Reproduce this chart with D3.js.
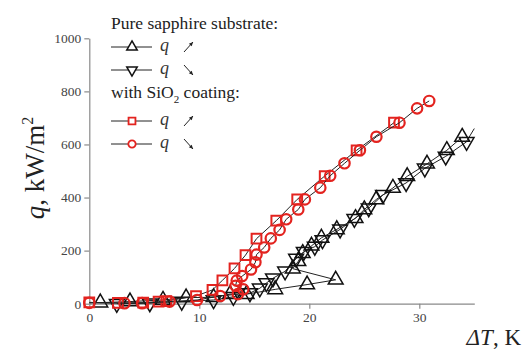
<!DOCTYPE html>
<html>
<head>
<meta charset="utf-8">
<script src="https://cdn.jsdelivr.net/npm/d3@7"></script>
<style>
  body { margin: 0; background: #fff; }
</style>
</head>
<body>
<svg id="chart" width="524" height="350" font-family="Liberation Serif"></svg>
<script>
// values: [dT (K), q (kW/m2)]
var sapphireUp = [
  [1.0, 4], [3.7, 8], [6.7, 14], [8.8, 23], [11.3, 24], [12.8, 36], [14.3, 36],
  [16.9, 54], [19.8, 72], [22.4, 90], [18.5, 132], [19.0, 160], [19.4, 190],
  [20.2, 218], [21.1, 248], [22.5, 280], [24.2, 322], [25.0, 355], [26.1, 393],
  [27.6, 436], [28.9, 480], [30.7, 527], [32.5, 578], [33.9, 628]
];
var sapphireDown = [
  [34.3, 610], [32.4, 555], [30.5, 510], [28.8, 455], [26.7, 410], [25.4, 360],
  [24.1, 320], [22.8, 280], [21.2, 240], [20.5, 215], [19.5, 196], [18.8, 170],
  [17.8, 122], [16.7, 96], [16.1, 78], [15.5, 58], [14.6, 40], [13.1, 26],
  [11.3, 14], [8.4, 8], [5.5, 2], [2.5, 0]
];
var sapphireTail = [[34.3, 612], [35, 660]];
var coatedUp = [
  [0.0, 5], [2.6, 3], [4.9, 4], [6.3, 8], [7.0, 10], [9.7, 29], [11.2, 52],
  [12.1, 88], [13.2, 133], [14.2, 183], [15.2, 245], [17.0, 313], [18.9, 393],
  [21.4, 481], [24.3, 578], [27.7, 682]
];
var coatedDown = [
  [30.9, 764], [29.8, 736], [28.2, 682], [26.1, 629], [24.6, 578], [23.2, 529],
  [21.9, 482], [21.0, 437], [19.6, 393], [19.0, 355], [17.9, 318], [17.3, 278],
  [16.5, 246], [15.9, 212], [15.2, 185], [15.1, 156], [14.7, 129], [13.9, 104],
  [13.4, 87], [13.3, 67], [14.0, 54], [13.5, 36], [11.9, 29], [9.8, 14],
  [7.3, 8], [4.8, 2], [3.2, 2], [0.0, 3]
];
var xTicks = [0, 10, 20, 30];
var xMinor = [5, 15, 25, 35];
var yTicks = [0, 200, 400, 600, 800, 1000];
var yMinor = [100, 300, 500, 700, 900];

var red = "#e3231f";
var serif = "Liberation Serif";
var svg = d3.select("#chart");
var x = d3.scaleLinear().domain([0, 35]).range([89.3, 474.3]);
var y = d3.scaleLinear().domain([0, 1000]).range([303.7, 38.3]);

// axes
var axisColor = "#8a8a8a";
var gx = svg.append("g").attr("transform", "translate(0," + y(0) + ")");
gx.call(d3.axisBottom(x).tickValues(xMinor).tickSize(3).tickFormat(""));
gx.call(d3.axisBottom(x).tickValues(xTicks).tickSize(5).tickSizeOuter(0).tickPadding(4)
  .tickFormat(d3.format("d")));
var gy = svg.append("g").attr("transform", "translate(" + x(0) + ",0)");
gy.call(d3.axisLeft(y).tickValues(yMinor).tickSize(3).tickFormat(""));
gy.call(d3.axisLeft(y).tickValues(yTicks).tickSize(5).tickSizeOuter(0).tickPadding(3)
  .tickFormat(d3.format("d")));
svg.selectAll(".domain, .tick line").attr("stroke", axisColor).attr("stroke-width", 1.2);
svg.selectAll("g").attr("font-family", serif);
svg.selectAll(".tick text").attr("fill", "#444").style("font-size", "13.5px");

var line = d3.line().x(function(d){ return x(d[0]); }).y(function(d){ return y(d[1]); });

function drawSeries(data, shape, color, sw) {
  svg.append("path").datum(data).attr("d", line)
    .attr("fill", "none").attr("stroke", "#222").attr("stroke-width", 1);
  var sym = d3.symbol().type(shape.type).size(shape.size);
  svg.append("g").selectAll("path").data(data).enter().append("path")
    .attr("d", sym)
    .attr("transform", function(d){
      return "translate(" + x(d[0]) + "," + y(d[1]) + ")" + (shape.rot ? " rotate(180)" : "");
    })
    .attr("fill", "none")
    .attr("stroke", color).attr("stroke-width", sw);
}

svg.append("path").datum(sapphireTail).attr("d", line)
  .attr("fill", "none").attr("stroke", "#222").attr("stroke-width", 1);

var triUp = {type: d3.symbolTriangle, size: 95, rot: false};
var triDown = {type: d3.symbolTriangle, size: 95, rot: true};
var square = {type: d3.symbolSquare, size: 95};
var circle = {type: d3.symbolCircle, size: 85};

drawSeries(sapphireDown, triDown, "#111", 1.5);
drawSeries(sapphireUp, triUp, "#111", 1.5);
drawSeries(coatedUp, square, red, 2);
drawSeries(coatedDown, circle, red, 2.2);

// legend
var legend = [
  {label: "Pure sapphire substrate:", y: 24, header: true},
  {shape: triUp, color: "#111", sw: 1.5, y: 47, up: true},
  {shape: triDown, color: "#111", sw: 1.5, y: 70, up: false},
  {label: "with SiO", sub: "2", rest: " coating:", y: 93, header: true},
  {shape: square, color: red, sw: 1.8, y: 121, up: true},
  {shape: circle, color: red, sw: 1.8, y: 144, up: false}
];
legend.forEach(function(l) {
  if (l.header) {
    var t = svg.append("text").attr("x", 111).attr("y", l.y + 5)
      .style("font-size", "17.5px").attr("fill", "#222");
    t.append("tspan").text(l.label);
    if (l.sub) {
      t.append("tspan").attr("dy", 5).style("font-size", "11px").text(l.sub);
      t.append("tspan").attr("dy", -5).text(l.rest);
    }
    return;
  }
  svg.append("line").attr("x1", 111).attr("x2", 152).attr("y1", l.y).attr("y2", l.y)
    .attr("stroke", "#222").attr("stroke-width", 1);
  var small = {type: l.shape.type, size: l.shape.size * 0.5, rot: l.shape.rot};
  svg.append("path").attr("d", d3.symbol().type(small.type).size(small.size))
    .attr("transform", "translate(132," + l.y + ")" + (small.rot ? " rotate(180)" : ""))
    .attr("fill", "#fff").attr("stroke", l.color).attr("stroke-width", l.sw);
  svg.append("text").attr("x", 160).attr("y", l.y + 4)
    .style("font-size", "18px").style("font-style", "italic").attr("fill", "#333").text("q");
  // small arrow
  var x1 = 184, x2 = 193;
  var ya = l.up ? l.y + 5 : l.y - 5, yb = l.up ? l.y - 5 : l.y + 5;
  svg.append("line").attr("x1", x1).attr("y1", ya).attr("x2", x2).attr("y2", yb)
    .attr("stroke", "#222").attr("stroke-width", 1);
  var ang = Math.atan2(yb - ya, x2 - x1);
  var hx = x2, hy = yb, len = 4.5;
  svg.append("path")
    .attr("d", "M" + hx + "," + hy +
      "L" + (hx - len * Math.cos(ang - 0.45)) + "," + (hy - len * Math.sin(ang - 0.45)) +
      "L" + (hx - len * Math.cos(ang + 0.45)) + "," + (hy - len * Math.sin(ang + 0.45)) + "Z")
    .attr("fill", "#222");
});

// axis titles
var yt = svg.append("text").attr("transform", "translate(44,168) rotate(-90)")
  .attr("text-anchor", "middle").style("font-size", "27px").attr("fill", "#222");
yt.append("tspan").style("font-style", "italic").text("q");
yt.append("tspan").text(", kW/m");
yt.append("tspan").attr("dy", -11).style("font-size", "16px").text("2");

var xt = svg.append("text").attr("x", 521).attr("y", 345).attr("text-anchor", "end")
  .style("font-size", "23px").attr("fill", "#222");
xt.append("tspan").style("font-style", "italic").text("ΔT");
xt.append("tspan").text(", K");
</script>
</body>
</html>
